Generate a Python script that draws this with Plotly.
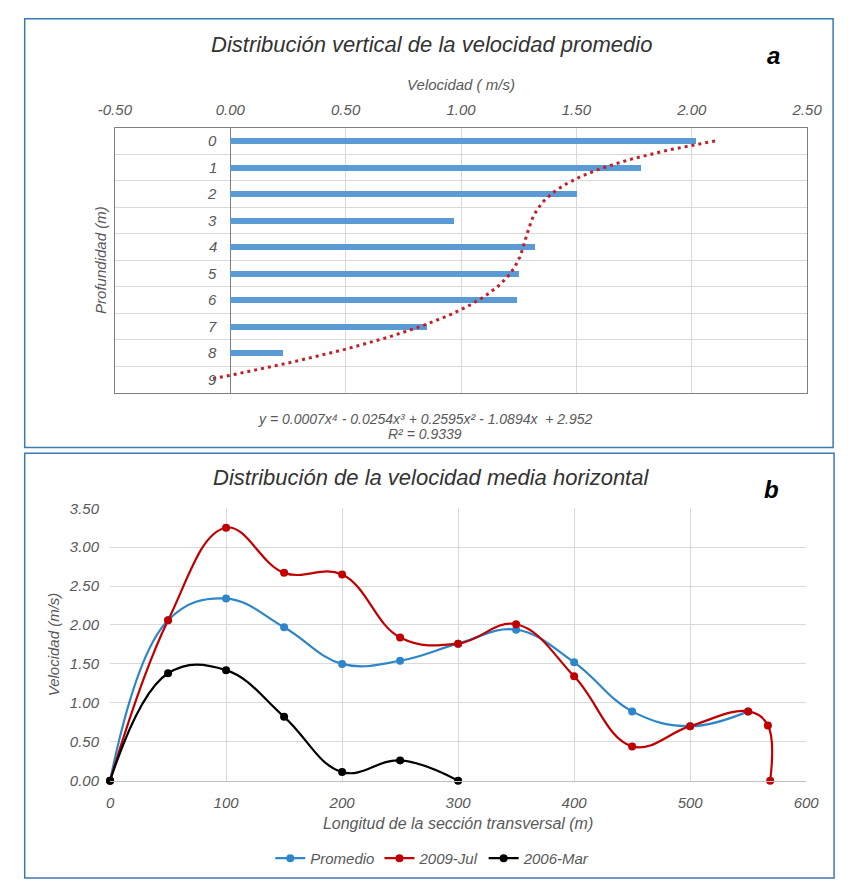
import numpy as np
import plotly.graph_objects as go

W, H = 851, 888

# ---- Panel a: mean velocity by depth ----
profundidad = [0, 1, 2, 3, 4, 5, 6, 7, 8, 9]
velocidad_prof = [2.02, 1.78, 1.50, 0.97, 1.32, 1.25, 1.24, 0.85, 0.23, 0.0]
vel_ticks = [-0.5, 0.0, 0.5, 1.0, 1.5, 2.0, 2.5]

# ---- Panel b: horizontal mean velocity across the section ----
dist_prom = [0, 50, 100, 150, 200, 250, 300, 350, 400, 450, 500, 550]
vel_prom = [0.0, 2.06, 2.34, 1.97, 1.50, 1.54, 1.76, 1.94, 1.52, 0.89, 0.70, 0.89]
dist_jul = [0, 50, 100, 150, 200, 250, 300, 350, 400, 450, 500, 550, 567, 569]
vel_jul = [0.0, 2.06, 3.25, 2.67, 2.65, 1.84, 1.76, 2.01, 1.34, 0.44, 0.70, 0.89, 0.71, 0.0]
dist_mar = [0, 50, 100, 150, 200, 250, 300]
vel_mar = [0.0, 1.38, 1.42, 0.82, 0.11, 0.26, 0.0]
long_ticks = [0, 100, 200, 300, 400, 500, 600]
vmed_ticks = [0.0, 0.5, 1.0, 1.5, 2.0, 2.5, 3.0, 3.5]


def px(x):
    return x / W


def py(y):
    return 1 - y / H


FONT = "Liberation Sans, Arial, sans-serif"
TXT = "#595959"
GRID = "#D9D9D9"
BORDER = "#7F7F7F"

# 4th-order polynomial trend of velocity vs. category position (1..10)
pos = np.arange(1, len(profundidad) + 1)
coef = np.polyfit(pos, velocidad_prof, 4)
t = np.linspace(1, len(profundidad), 200)
trend_v = np.polyval(coef, t)

fig = go.Figure()

fig.add_trace(go.Bar(
    x=velocidad_prof, y=profundidad, orientation="h", width=0.22,
    marker=dict(color="#5B9BD5", line=dict(width=0)),
    xaxis="x", yaxis="y", showlegend=False,
))
fig.add_trace(go.Scatter(
    x=trend_v, y=t - 1, mode="lines",
    line=dict(color="#C0202A", width=3, dash="3px,4px"),
    xaxis="x", yaxis="y", showlegend=False, cliponaxis=False,
))

series = [
    ("Promedio", dist_prom, vel_prom, "#2E86C8"),
    ("2009-Jul", dist_jul, vel_jul, "#C00000"),
    ("2006-Mar", dist_mar, vel_mar, "#000000"),
]
for name, xs, ys, col in series:
    fig.add_trace(go.Scatter(
        x=xs, y=ys, name=name, mode="lines+markers",
        line=dict(color=col, width=2.2, shape="spline", smoothing=1.15),
        marker=dict(color=col, size=8),
        xaxis="x2", yaxis="y2", cliponaxis=False,
    ))

annotations = [
    dict(text="Distribución vertical de la velocidad promedio", x=px(431), y=py(36),
         font=dict(size=22, color="#333333")),
    dict(text="<b>a</b>", x=px(786), y=py(47), font=dict(size=24, color="#000000")),
    dict(text="Distribución de la velocidad media horizontal", x=px(430), y=py(478),
         font=dict(size=22, color="#333333")),
    dict(text="<b>b</b>", x=px(784), y=py(490), font=dict(size=24, color="#000000"),
         bgcolor="#FFFFFF", borderpad=6),
    dict(text="y = 0.0007x⁴ - 0.0254x³ + 0.2595x² - 1.0894x  + 2.952", x=px(424), y=py(418),
         font=dict(size=14, color=TXT)),
    dict(text="R² = 0.9339", x=px(424), y=py(433), font=dict(size=14, color=TXT)),
]
for a in annotations:
    a.update(xref="paper", yref="paper", showarrow=False, xanchor="center", yanchor="middle")

# depth labels drawn beside the zero line
for d in profundidad:
    annotations.append(dict(
        text=str(d), x=0, y=d, xref="x", yref="y", xanchor="right", yanchor="middle",
        xshift=-11, showarrow=False, font=dict(size=15, color=TXT),
    ))

shapes = [
    dict(type="rect", xref="paper", yref="paper", x0=px(8), x1=px(848), y0=py(447), y1=py(10),
         line=dict(color="#3C7AB0", width=1.5)),
    dict(type="rect", xref="paper", yref="paper", x0=px(8), x1=px(849), y0=py(886), y1=py(453),
         line=dict(color="#3C7AB0", width=1.5)),
]

fig.update_layout(
    width=W, height=H,
    margin=dict(l=0, r=0, t=0, b=0),
    paper_bgcolor="white", plot_bgcolor="white",
    font=dict(family=FONT, style="italic", color=TXT, size=15),
    bargap=0,
    xaxis=dict(
        domain=[px(101.7), px(821)], range=[-0.5, 2.5], side="top", anchor="y",
        tickvals=vel_ticks, ticktext=[f"{v:.2f}" for v in vel_ticks],
        ticks="", ticklabelstandoff=6,
        showgrid=True, gridcolor=GRID, zeroline=True, zerolinecolor=BORDER, zerolinewidth=1.2,
        showline=True, linecolor=BORDER, linewidth=1.2, mirror=True,
        title=dict(text="Velocidad ( m/s)", standoff=6, font=dict(size=15, color=TXT)),
        tickfont=dict(size=15, color=TXT),
    ),
    yaxis=dict(
        domain=[py(391), py(121)], range=[9.5, -0.5], anchor="x",
        tickvals=[v - 0.5 for v in profundidad] + [9.5], showticklabels=False, ticks="",
        showgrid=True, gridcolor=GRID, zeroline=False,
        showline=True, linecolor=BORDER, linewidth=1.2, mirror=True,
        title=dict(text="Profundidad (m)", standoff=3, font=dict(size=15, color=TXT)),
    ),
    xaxis2=dict(
        domain=[px(96.7), px(820)], range=[0, 600], anchor="y2",
        tickvals=long_ticks, ticks="", ticklabelstandoff=8,
        showgrid=True, gridcolor=GRID, zeroline=False,
        showline=True, linecolor="#BFBFBF", linewidth=1.2,
        title=dict(text="Longitud de la sección transversal (m)", standoff=8,
                   font=dict(size=16, color=TXT)),
        tickfont=dict(size=15, color=TXT),
    ),
    yaxis2=dict(
        domain=[py(786.7), py(509)], range=[0, 3.5], anchor="x2",
        tickvals=vmed_ticks, tickformat=".2f", ticks="", ticklabelstandoff=10,
        showgrid=True, gridcolor=GRID, zeroline=False, showline=False,
        title=dict(text="Velocidad (m/s)", standoff=5, font=dict(size=15, color=TXT)),
        tickfont=dict(size=15, color=TXT),
    ),
    legend=dict(
        orientation="h", x=px(432), xanchor="center", y=py(866), yanchor="middle",
        font=dict(size=15, color=TXT), bgcolor="rgba(0,0,0,0)",
    ),
    annotations=annotations,
    shapes=shapes,
)

fig.write_html("out.html")
